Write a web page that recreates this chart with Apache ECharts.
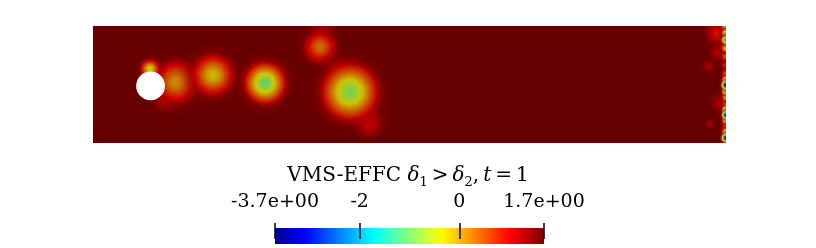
<!DOCTYPE html>
<html>
<head>
<meta charset="utf-8">
<script src="https://cdn.jsdelivr.net/npm/echarts@6/dist/echarts.min.js"></script>
<style>html,body{margin:0;padding:0;background:#fff;}#c{width:816px;height:248px;}</style>
</head>
<body>
<div id="c"></div>
<script>
// ---- data (domain units: channel 2.2 x 0.41) ----
const domainX = [0, 2.2];
const domainY = [0, 0.41];
const valueRange = [-3.7, 1.7];
const cylinderX = [0.2];
const cylinderY = [0.2];
const cylinderR = [0.05];

// wake vortices: centre, width (sigma), core value
const wakeX     = [0.348, 0.2885, 0.250, 0.198, 0.417, 0.598, 0.796, 0.845, 0.789, 0.959, 0.893, 0.930];
const wakeY     = [0.228, 0.2137, 0.151, 0.259, 0.238, 0.210, 0.396, 0.263, 0.336, 0.070, 0.179, 0.120];
const wakeSigma = [0.030, 0.045,  0.024, 0.020, 0.043, 0.043, 0.024, 0.024, 0.034, 0.030, 0.058, 0.024];
const wakeCore  = [1.1,   0.1,    1.0,   -0.4,  -0.2,  -1.0,  1.2,   1.2,   0.3,   1.0,   -0.9,  1.2];

// outflow boundary artefacts
const outletX     = [2.170, 2.176, 2.182, 2.139, 2.144,
                     2.2, 2.2, 2.2, 2.2, 2.2, 2.2, 2.2, 2.2, 2.2, 2.2, 2.2, 2.2, 2.2, 2.2, 2.2, 2.2, 2.2, 2.2];
const outletY     = [0.385, 0.320, 0.140, 0.270, 0.067,
                     0.406, 0.385, 0.361, 0.333, 0.305, 0.273, 0.242, 0.221, 0.203, 0.182, 0.161, 0.137, 0.116, 0.098, 0.081, 0.060, 0.039, 0.018];
const outletSigma = [0.024, 0.020, 0.020, 0.014, 0.010,
                     0.011, 0.010, 0.010, 0.011, 0.011, 0.011, 0.010, 0.009, 0.010, 0.009, 0.010, 0.010, 0.009, 0.009, 0.009, 0.010, 0.009, 0.010];
const outletCore  = [0.9,   1.1,   1.2,   1.3,   1.3,
                     -0.8,  -1.0,  -2.0,  -0.4,  0.2,   0.7,   0.3,   -1.5,  -3.5,  -1.8,  -0.3,  0.2,   -1.8,  -3.3,  -1.2,  0.3,   -1.0,  -3.3];

// colour bar ticks
const tickValues = [-3.7, -2, 0, 1.7];
const tickLabels = ['-3.7e+00', '-2', '0', '1.7e+00'];

const titleText = '{a|VMS-EFFC }{i|δ}{s|1}{a|\u2009>\u2009}{i|δ}{s|2}{a|,\u2009}{i|t}{a|\u2009=\u20091}';

// ---- jet colour map ----
const jet = [[0,[0,0,0.5625]],[0.111,[0,0,1]],[0.365,[0,1,1]],[0.492,[0.5,1,0.5]],[0.619,[1,1,0]],[0.873,[1,0,0]],[1,[0.5,0,0]]];
function jetRGB(f){
  f = Math.max(0, Math.min(1, f));
  for (let i = 1; i < jet.length; i++) {
    if (f <= jet[i][0]) {
      const a = jet[i-1], b = jet[i];
      const t = (f - a[0]) / (b[0] - a[0]);
      return [0,1,2].map(k => a[1][k] + (b[1][k]-a[1][k]) * t);
    }
  }
  return jet[jet.length-1][1];
}
function colorOf(v, shade, alpha){
  const f = (v - valueRange[0]) / (valueRange[1] - valueRange[0]);
  const c = jetRGB(f).map(x => Math.round(x * 255 * shade));
  return 'rgba(' + c[0] + ',' + c[1] + ',' + c[2] + ',' + (alpha == null ? 1 : alpha) + ')';
}
const SHADE = 0.8;

function blobRender(params, api){
  const c = api.coord([api.value(0), api.value(1)]);
  const s = api.size([api.value(2), api.value(2)]);
  const K = 3;
  const R = K * s[0];
  const v0 = api.value(3);
  const vmax = valueRange[1];
  const stops = [];
  const N = 16;
  for (let i = 0; i <= N; i++) {
    const t = i / N;
    const g = Math.exp(-0.5 * Math.pow(K * t, 2));
    const v = vmax - (vmax - v0) * g;
    const a = Math.min(1, 3 * g);
    stops.push({offset: t, color: colorOf(v, SHADE, i === N ? 0 : a)});
  }
  return {
    type: 'circle',
    shape: {cx: c[0], cy: c[1], r: R},
    style: {fill: {type: 'radial', x: 0.5, y: 0.5, r: 0.5, colorStops: stops}}
  };
}

function toRows(xs, ys, ss, vs){
  return xs.map((x, i) => [x, ys[i], ss[i], vs[i]]).sort((p, q) => q[3] - p[3]);
}
const wakeData = toRows(wakeX, wakeY, wakeSigma, wakeCore);
const outletData = toRows(outletX, outletY, outletSigma, outletCore);
const cylData = cylinderX.map((x, i) => [x, cylinderY[i], cylinderR[i]]);

const barStops = [];
for (let i = 0; i <= 40; i++) {
  const t = i / 40;
  barStops.push({offset: t, color: colorOf(valueRange[0] + t * (valueRange[1] - valueRange[0]), 1, 1)});
}

const txt = {fontFamily: 'DejaVu Serif', fontSize: 20, fontWeight: 'normal', color: '#000', lineHeight: 26, verticalAlign: 'middle'};
const chart = echarts.init(document.getElementById('c'), null, {renderer: 'canvas'});
chart.setOption({
  animation: false,
  backgroundColor: '#ffffff',
  title: {
    left: 'center', top: 158,
    text: titleText,
    textStyle: {
      fontWeight: 'normal',
      rich: {
        a: txt,
        i: Object.assign({}, txt, {fontStyle: 'italic'}),
        s: {fontFamily: 'DejaVu Serif', fontSize: 13, fontWeight: 'normal', color: '#000', lineHeight: 13, verticalAlign: 'bottom'}
      }
    }
  },
  grid: [
    {left: 93, top: 26, width: 633, height: 117, show: true, backgroundColor: colorOf(valueRange[1], SHADE, 1), borderWidth: 0},
    {left: 275, top: 228, width: 269, height: 16, show: false}
  ],
  xAxis: [
    {gridIndex: 0, type: 'value', min: domainX[0], max: domainX[1], show: false},
    {gridIndex: 1, type: 'value', min: valueRange[0], max: valueRange[1], position: 'top', offset: -5, z: 10,
      axisLine: {show: false}, splitLine: {show: false},
      axisTick: {show: true, customValues: tickValues, length: 16, lineStyle: {color: '#000', width: 1.5}},
      axisLabel: {show: true, customValues: tickValues, margin: 21,
        fontFamily: 'DejaVu Serif', fontSize: 19, color: '#000',
        formatter: v => { const k = tickValues.findIndex(t => Math.abs(t - v) < 1e-9); return k >= 0 ? tickLabels[k] : ''; }}
    }
  ],
  yAxis: [
    {gridIndex: 0, type: 'value', min: domainY[0], max: domainY[1], show: false},
    {gridIndex: 1, type: 'value', min: 0, max: 1, show: false}
  ],
  series: [
    {type: 'custom', xAxisIndex: 0, yAxisIndex: 0, clip: true, data: wakeData, renderItem: blobRender, encode: {x: 0, y: 1}, silent: true},
    {type: 'custom', xAxisIndex: 0, yAxisIndex: 0, clip: true, data: outletData, renderItem: blobRender, encode: {x: 0, y: 1}, silent: true},
    {type: 'custom', xAxisIndex: 0, yAxisIndex: 0, clip: true, data: cylData, encode: {x: 0, y: 1}, silent: true,
      renderItem: (p, api) => {
        const c = api.coord([api.value(0), api.value(1)]);
        const s = api.size([api.value(2), api.value(2)]);
        return {type: 'circle', shape: {cx: c[0], cy: c[1], r: s[0]}, style: {fill: '#ffffff'}};
      }},
    {type: 'custom', xAxisIndex: 1, yAxisIndex: 1, data: [[valueRange[0], 0, valueRange[1], 1]], silent: true, z: 1,
      encode: {x: [0, 2], y: [1, 3]},
      renderItem: (p, api) => {
        const a = api.coord([api.value(0), api.value(3)]);
        const b = api.coord([api.value(2), api.value(1)]);
        return {type: 'rect', shape: {x: a[0], y: a[1], width: b[0] - a[0], height: b[1] - a[1]},
          style: {fill: {type: 'linear', x: 0, y: 0, x2: 1, y2: 0, colorStops: barStops}}};
      }}
  ]
});
</script>
</body>
</html>
